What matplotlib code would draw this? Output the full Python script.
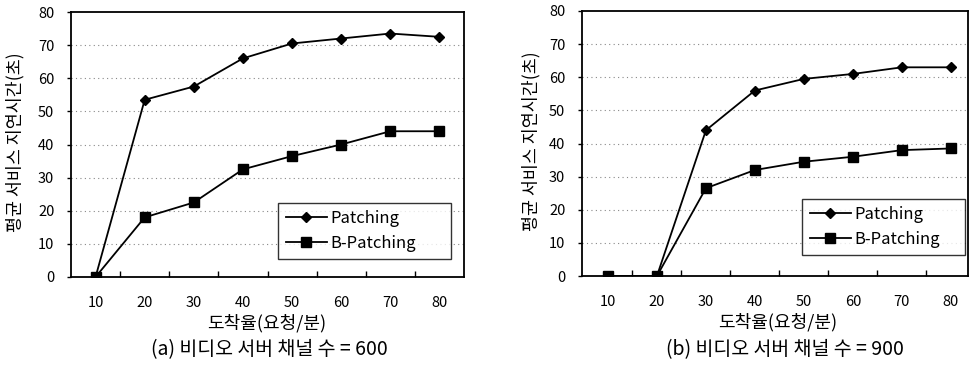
import matplotlib
matplotlib.use("Agg")
import matplotlib.pyplot as plt

plt.rcParams['font.family'] = ['Noto Sans CJK KR', 'DejaVu Sans']

# --- data ---
rates = [10, 20, 30, 40, 50, 60, 70, 80]

patch_600 = [0, 53.5, 57.5, 66, 70.5, 72, 73.5, 72.5]
bpatch_600 = [0, 18, 22.5, 32.5, 36.5, 40, 44, 44]

patch_900 = [0, 0, 44, 56, 59.5, 61, 63, 63]
bpatch_900 = [0, 0, 26.5, 32, 34.5, 36, 38, 38.5]

y_ticks = [0, 10, 20, 30, 40, 50, 60, 70, 80]

ylabel = "평균 서비스 지연시간(초)"
xlabel = "도착율(요청/분)"
captions = ["(a) 비디오 서버 채널 수 = 600", "(b) 비디오 서버 채널 수 = 900"]

W, H = 969, 367
fig = plt.figure(figsize=(W / 100, H / 100), dpi=100)


def px_axes(x0, y0, x1, y1):
    # pixel box (top-left origin) -> figure fraction
    return fig.add_axes([x0 / W, 1 - y1 / H, (x1 - x0) / W, (y1 - y0) / H])


def draw_panel(ax, p, b, xlim, legend_px):
    ax.plot(rates, p, color='black', lw=1.3, marker='D', ms=5.5,
            label='Patching')
    ax.plot(rates, b, color='black', lw=1.3, marker='s', ms=7,
            label='B-Patching')
    ax.set_xlim(*xlim)
    ax.set_ylim(0, 80)
    ax.set_yticks(y_ticks)
    ax.set_xticks(rates)
    ax.set_xticks([r + 5 for r in rates[:-1]], minor=True)
    ax.tick_params(axis='x', which='major', length=0, labelsize=10.5, pad=14)
    ax.tick_params(axis='x', which='minor', length=4, direction='in', width=1)
    ax.tick_params(axis='y', length=3, width=1, labelsize=10.5, pad=9)
    for g in y_ticks[1:-1]:
        ax.axhline(g, color='#888888', lw=0.8, ls=(0, (1, 3)), zorder=0)
    for s in ax.spines.values():
        s.set_linewidth(1.3)
    x0, y0, x1, y1 = legend_px
    leg = ax.legend(loc='lower left', mode='expand',
                    bbox_to_anchor=(x0 / W, 1 - y1 / H, (x1 - x0) / W, (y1 - y0) / H),
                    bbox_transform=fig.transFigure, frameon=True,
                    fancybox=False, edgecolor='black', fontsize=12,
                    handlelength=2.5, borderpad=0.45, labelspacing=0.45,
                    handletextpad=0.2, borderaxespad=0)
    leg.get_frame().set_linewidth(1.0)


ax1 = px_axes(71, 12, 464, 277)
draw_panel(ax1, patch_600, bpatch_600, (5, 85), (278, 200, 451, 259))

ax2 = px_axes(582, 11, 968, 276)
draw_panel(ax2, patch_900, bpatch_900, (4.7, 83.5), (802, 199, 965, 255))

# axis labels and captions
fig.text(15 / W, 1 - 142 / H, ylabel, rotation=90, ha='center', va='center',
         fontsize=12.5)
fig.text(531 / W, 1 - 141 / H, ylabel, rotation=90, ha='center', va='center',
         fontsize=12.5)
fig.text(267 / W, 1 - 323 / H, xlabel, ha='center', va='center', fontsize=13)
fig.text(778 / W, 1 - 322 / H, xlabel, ha='center', va='center', fontsize=13)
fig.text(269 / W, 1 - 350 / H, captions[0], ha='center', va='center',
         fontsize=14)
fig.text(785 / W, 1 - 350 / H, captions[1], ha='center', va='center',
         fontsize=14)

fig.savefig("out.png", dpi=100)
